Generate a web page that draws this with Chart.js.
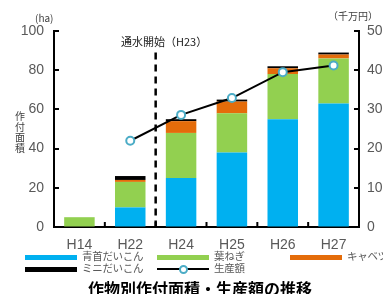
<!DOCTYPE html>
<html>
<head>
<meta charset="utf-8">
<script src="https://cdn.jsdelivr.net/npm/chart.js@4.4.1/dist/chart.umd.min.js"></script>
<style>
body { margin:0; background:#fff; }
#wrap { position:relative; width:383px; height:294px; overflow:hidden; font-family:"Noto Sans CJK JP", sans-serif; color:#595959; }
#wrap canvas { position:absolute; left:0; top:0; }
.t { position:absolute; white-space:nowrap; line-height:1; }
.lg { font-size:10.5px; letter-spacing:-0.3px; }
.sw { position:absolute; height:5px; }
</style>
</head>
<body>
<div id="wrap">
  <canvas id="c" width="383" height="294"></canvas>
  <div class="t" style="left:35px;top:13px;font-size:10px;color:#404040">(ha)</div>
  <div class="t" style="left:328px;top:11px;font-size:10px;color:#404040">（千万円）</div>
  <div class="t" style="left:15px;top:111px;font-size:10px;width:10px;white-space:normal;line-height:10.5px;color:#404040">作付面積</div>
  <div class="t" style="left:121px;top:36px;font-size:11px;color:#222">通水開始（H23）</div>

  <div class="sw" style="left:25px;top:255px;width:52px;background:#00B0F0"></div>
  <div class="t lg" style="left:82px;top:251px">青首だいこん</div>
  <div class="sw" style="left:25px;top:267px;width:52px;background:#000"></div>
  <div class="t lg" style="left:82px;top:263px">ミニだいこん</div>

  <div class="sw" style="left:157px;top:255px;width:52px;background:#92D050"></div>
  <div class="t lg" style="left:214px;top:251px">葉ねぎ</div>
  <div class="sw" style="left:157px;top:268px;width:52px;height:2px;background:#000"></div>
  <div style="position:absolute;left:179px;top:265px;width:5px;height:5px;border:2px solid #4BACC6;border-radius:50%;background:#fff"></div>
  <div class="t lg" style="left:214px;top:263px">生産額</div>

  <div class="sw" style="left:290px;top:255px;width:52px;background:#E46C0A"></div>
  <div class="t lg" style="left:347px;top:251px">キャベツ</div>

  <div class="t" style="left:88px;top:280px;font-size:16px;font-weight:bold;color:#000">作物別作付面積・生産額の推移</div>
</div>
<script>
var years = ["H14", "H22", "H24", "H25", "H26", "H27"];
var aokubi = [0, 10, 25, 38, 55, 63];
var hanegi = [5, 13, 23, 20, 23, 23];
var cabbage = [0, 1, 6, 6, 3, 2];
var mini = [0, 2, 1, 1, 1, 1];
var seisan = [null, 22, 28.6, 32.9, 39.5, 41.2];
var areaTicks = [0, 20, 40, 60, 80, 100];
var yenTicks = [0, 10, 20, 30, 40, 50];
var waterStart = 89; // 通水開始 line top (ha)

var tickFont = { family: "'Liberation Sans Narrow', 'Arial Narrow', sans-serif", size: 14 };

// inward ticks + dashed line
var extras = {
  id: 'extras',
  afterDraw: function(chart) {
    var ctx = chart.ctx, x = chart.scales.x, y = chart.scales.y, y1 = chart.scales.y1;
    var a = chart.chartArea;
    ctx.save();
    ctx.strokeStyle = '#000';
    ctx.lineWidth = 2;
    areaTicks.forEach(function(v) {
      var p = Math.round(y.getPixelForValue(v));
      ctx.beginPath(); ctx.moveTo(a.left, p); ctx.lineTo(a.left + 5, p); ctx.stroke();
    });
    yenTicks.forEach(function(v) {
      var p = Math.round(y1.getPixelForValue(v));
      ctx.beginPath(); ctx.moveTo(a.right, p); ctx.lineTo(a.right - 5, p); ctx.stroke();
    });
    for (var i = 0; i <= years.length; i++) {
      var px = i == 0 ? a.left : i == years.length ? a.right :
        (x.getPixelForValue(i - 1) + x.getPixelForValue(i)) / 2;
      ctx.beginPath(); ctx.moveTo(px, a.bottom); ctx.lineTo(px, a.bottom - 5); ctx.stroke();
    }
    var dx = (x.getPixelForValue(1) + x.getPixelForValue(2)) / 2;
    ctx.setLineDash([7, 5]);
    ctx.lineWidth = 2.5;
    ctx.beginPath(); ctx.moveTo(dx, y.getPixelForValue(waterStart)); ctx.lineTo(dx, a.bottom); ctx.stroke();
    ctx.restore();
  }
};

new Chart(document.getElementById('c'), {
  type: 'bar',
  data: {
    labels: years,
    datasets: [
      { type: 'line', label: '生産額', data: seisan, yAxisID: 'y1', order: 0,
        borderColor: '#000', borderWidth: 2, pointRadius: 4, pointBorderWidth: 2,
        pointBorderColor: '#4BACC6', pointBackgroundColor: '#fff', spanGaps: false },
      { label: '青首だいこん', data: aokubi, backgroundColor: '#00B0F0', order: 1 },
      { label: '葉ねぎ', data: hanegi, backgroundColor: '#92D050', order: 1 },
      { label: 'キャベツ', data: cabbage, backgroundColor: '#E46C0A', order: 1 },
      { label: 'ミニだいこん', data: mini, backgroundColor: '#000', order: 1 }
    ]
  },
  options: {
    responsive: false,
    animation: false,
    layout: { padding: { top: 31, left: 0, right: 0, bottom: 0 } },
    datasets: { bar: { barPercentage: 0.6, categoryPercentage: 1 } },
    plugins: { legend: { display: false }, tooltip: { enabled: false } },
    scales: {
      x: {
        stacked: true, offset: true,
        grid: { drawOnChartArea: false, drawTicks: false },
        border: { color: '#000', width: 2 },
        ticks: { color: '#595959', font: { family: tickFont.family, size: 14 }, padding: 10 },
        afterFit: function(s) { s.height = 67; }
      },
      y: {
        stacked: true, min: 0, max: 100,
        grid: { drawOnChartArea: false, drawTicks: false },
        border: { color: '#000', width: 2 },
        ticks: { stepSize: 20, color: '#595959', font: tickFont, padding: 10 },
        afterFit: function(s) { s.width = 54; }
      },
      y1: {
        position: 'right', min: 0, max: 50,
        grid: { drawOnChartArea: false, drawTicks: false },
        border: { color: '#000', width: 2 },
        ticks: { stepSize: 10, color: '#595959', font: tickFont, padding: 8 },
        afterFit: function(s) { s.width = 24; }
      }
    }
  },
  plugins: [extras]
});
</script>
</body>
</html>
